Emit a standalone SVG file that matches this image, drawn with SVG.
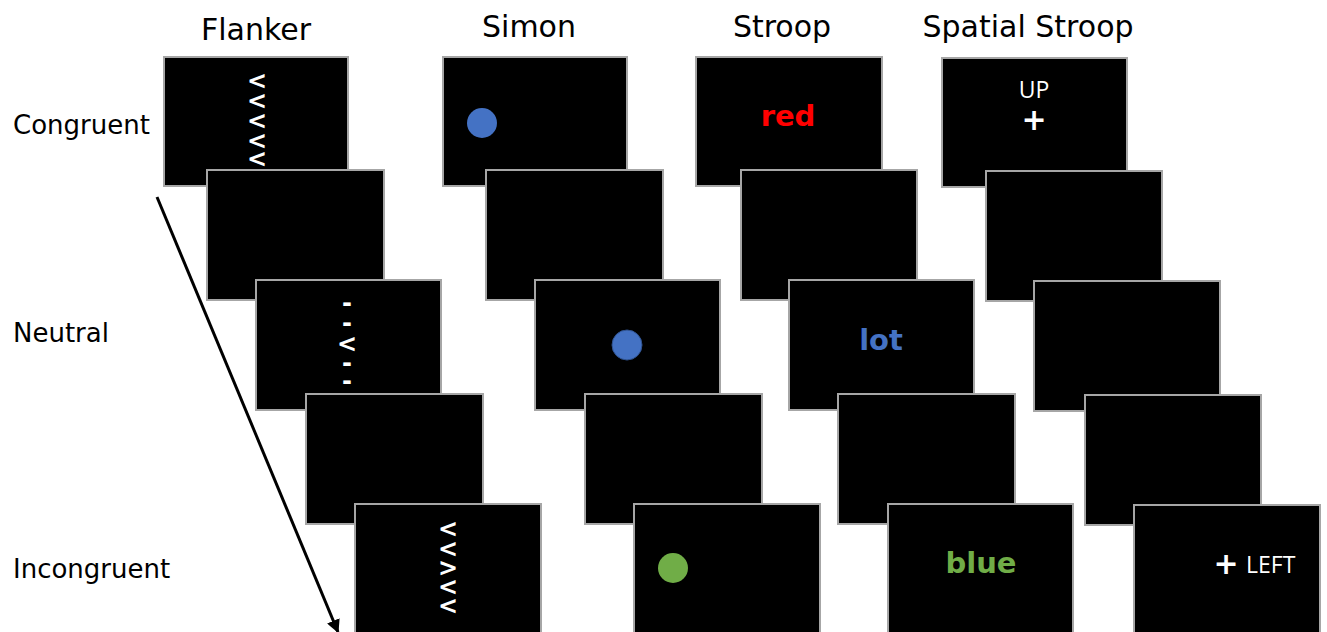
<svg xmlns="http://www.w3.org/2000/svg" width="1327" height="632" viewBox="0 0 1327 632">
<style>
.scr{fill:#000;stroke:#a6a6a6;stroke-width:2}
.lbl{font-family:"DejaVu Sans",Verdana,sans-serif;font-size:26px;fill:#000}
.hdr{font-family:"DejaVu Sans",Verdana,sans-serif;font-size:30px;fill:#000;text-anchor:middle}
.chev{font-family:"DejaVu Sans",Verdana,sans-serif;font-size:24px;font-weight:bold;fill:#fff;text-anchor:middle}
.word{font-family:"DejaVu Sans",Verdana,sans-serif;font-size:29px;font-weight:bold;text-anchor:middle}
.ss{font-family:"Open Sans","Noto Sans",sans-serif;font-size:23px;fill:#fff}
.plus{font-family:"DejaVu Sans",sans-serif;font-size:30px;font-weight:bold;fill:#fff;text-anchor:middle}
</style>
<defs>
<marker id="ah" viewBox="0 0 10 10" refX="9" refY="5" markerWidth="4.5" markerHeight="4.5" orient="auto">
<path d="M0,0 L10,5 L0,10 z" fill="#000"/>
</marker>
</defs>
<rect width="1327" height="632" fill="#fff"/>
<g id="headers">
<text class="hdr" x="256" y="40">Flanker</text>
<text class="hdr" x="529" y="37">Simon</text>
<text class="hdr" x="782" y="37">Stroop</text>
<text class="hdr" x="1028" y="37">Spatial Stroop</text>
</g>
<g id="rowlabels">
<text class="lbl" x="13" y="134">Congruent</text>
<text class="lbl" x="13" y="342">Neutral</text>
<text class="lbl" x="13" y="578">Incongruent</text>
</g>
<g id="connectors">
<line x1="157" y1="197" x2="338" y2="632" stroke="#000" stroke-width="3" marker-end="url(#ah)"/>
</g>
<g id="flanker">
<rect class="scr" x="164" y="57" width="184" height="129"/>
<text class="chev"><tspan x="257" y="89">&lt;</tspan><tspan x="257" y="109">&lt;</tspan><tspan x="257" y="129">&lt;</tspan><tspan x="257" y="149">&lt;</tspan><tspan x="257" y="167">&lt;</tspan></text>
<rect class="scr" x="207" y="170" width="177" height="130"/>
<rect class="scr" x="256" y="280" width="185" height="130"/>
<text class="chev"><tspan x="347" y="311">-</tspan><tspan x="347" y="331">-</tspan><tspan x="347" y="352">&lt;</tspan><tspan x="347" y="371">-</tspan><tspan x="347" y="389">-</tspan></text>
<rect class="scr" x="306" y="394" width="177" height="130"/>
<rect class="scr" x="355" y="504" width="186" height="132"/>
<text class="chev"><tspan x="448" y="537">&lt;</tspan><tspan x="448" y="557">&lt;</tspan><tspan x="448" y="576">&gt;</tspan><tspan x="448" y="595">&lt;</tspan><tspan x="448" y="614">&lt;</tspan></text>
</g>
<g id="simon">
<rect class="scr" x="443" y="57" width="184" height="129"/>
<circle cx="482" cy="123" r="15" fill="#4472c4"/>
<rect class="scr" x="486" y="170" width="177" height="130"/>
<rect class="scr" x="535" y="280" width="185" height="130"/>
<circle cx="627" cy="345" r="15" fill="#4472c4" stroke="#2f528f" stroke-width="1"/>
<rect class="scr" x="585" y="394" width="177" height="130"/>
<rect class="scr" x="634" y="504" width="186" height="132"/>
<circle cx="673" cy="568" r="15" fill="#70ad47"/>
</g>
<g id="stroop">
<rect class="scr" x="696" y="57" width="186" height="129"/>
<text class="word" x="788" y="126" fill="#ff0000">red</text>
<rect class="scr" x="741" y="170" width="176" height="130"/>
<rect class="scr" x="789" y="280" width="185" height="130"/>
<text class="word" x="881" y="350" fill="#4472c4">lot</text>
<rect class="scr" x="838" y="394" width="177" height="130"/>
<rect class="scr" x="888" y="504" width="185" height="132"/>
<text class="word" x="981" y="573" fill="#70ad47">blue</text>
</g>
<g id="spatialstroop">
<rect class="scr" x="942" y="58" width="185" height="129"/>
<text class="ss" x="1034" y="98" text-anchor="middle">UP</text>
<text class="plus" x="1034" y="130">+</text>
<rect class="scr" x="986" y="171" width="176" height="130"/>
<rect class="scr" x="1034" y="281" width="186" height="130"/>
<rect class="scr" x="1085" y="395" width="176" height="130"/>
<rect class="scr" x="1134" y="505" width="186" height="131"/>
<text class="plus" x="1226" y="574">+</text>
<text class="ss" x="1246" y="573">LEFT</text>
</g>
</svg>
